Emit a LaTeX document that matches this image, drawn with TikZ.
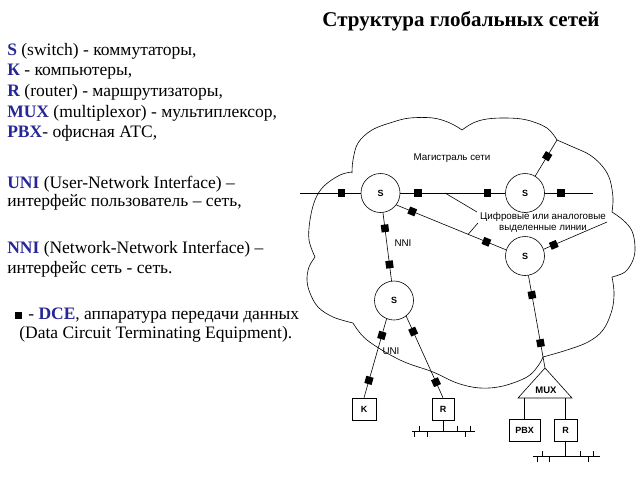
\documentclass[tikz,border=0pt]{standalone}
\usepackage{fontspec}
\setmainfont{Liberation Serif}
\newfontfamily\diag{Liberation Sans}
\usetikzlibrary{positioning}
\definecolor{keyblue}{RGB}{38,38,150}
\newcommand{\kb}[1]{\textcolor{keyblue}{\textbf{#1}}}
\begin{document}
\begin{tikzpicture}[x=1pt,y=-1pt,
  line width=0.6pt,
  sw/.style={draw,circle,minimum size=39pt,inner sep=0pt,font=\diag\bfseries\fontsize{9}{10}\selectfont},
  dev/.style={draw,rectangle,minimum height=22pt,inner sep=0pt,font=\diag\bfseries\fontsize{9}{10}\selectfont},
  dce/.style={fill=black,rectangle,minimum size=7.5pt,inner sep=0pt,sloped},
  lbl/.style={font=\diag\fontsize{9.8}{10.5}\selectfont,inner sep=0pt},
  txt/.style={anchor=base west,inner sep=0pt,font=\fontsize{17.5}{20}\selectfont},
  tick/.style={line width=0.6pt}]
\useasboundingbox (0,0) rectangle (640,480);

% title
\node[anchor=base,inner sep=0pt,font=\bfseries\fontsize{21}{25}\selectfont] (title) at (461,26.5) {Структура глобальных сетей};

% legend text
\node[txt] (t1) at (7,55.7) {\kb{S} (switch) - коммутаторы,};
\node[txt] (t2) at (7,75.3) {\kb{К} - компьютеры,};
\node[txt] (t3) at (7,96.7) {\kb{R} (router) - маршрутизаторы,};
\node[txt] (t4) at (7,117.3) {\kb{MUX} (multiplexor) - мультиплексор,};
\node[txt] (t5) at (7,137.3) {\kb{PBX}- офисная АТС,};
\node[txt] (t6) at (7,188.3) {\kb{UNI} (User-Network Interface) –};
\node[txt] (t7) at (7,206.7) {интерфейс пользователь – сеть,};
\node[txt] (t8) at (7,253.3) {\kb{NNI} (Network-Network Interface) –};
\node[txt] (t9) at (7,273.3) {интерфейс сеть - сеть.};
\node[fill=black,minimum size=7pt,inner sep=0pt] (legsq) at (18,315.5) {};
\node[txt] (t10) at (28,319.3) {- \kb{DCE}, аппаратура передачи данных};
\node[txt] (t11) at (19,338.3) {(Data Circuit Terminating Equipment).};

% cloud
\draw plot[smooth,tension=0.6] coordinates {(352,173) (353,160) (358,143) (372,130) (393,122) (410,118) (433,118) (450,123) (462,130)}
      plot[smooth,tension=0.6] coordinates {(462,130) (473,123) (487,119) (507,118) (527,120) (547,128) (557,140)}
      plot[smooth,tension=0.6] coordinates {(557,140) (573,147) (590,155) (603,167) (610,180) (613,198) (612,212)}
      plot[smooth,tension=0.6] coordinates {(612,212) (623,220) (632,231) (635,247) (633,260) (625,272) (612,277)}
      plot[smooth,tension=0.6] coordinates {(612,277) (614,292) (612,310) (603,330) (588,342) (567,350) (543,357)}
      plot[smooth,tension=0.6] coordinates {(543,357) (538,366) (527,377) (503,386) (480,388) (457,383) (433,372) (400,360) (367,340) (353,323)}
      plot[smooth,tension=0.6] coordinates {(353,323) (333,317) (318,307) (310,293) (307,280) (309,267) (315,257)}
      plot[smooth,tension=0.6] coordinates {(315,257) (309,240) (310,220) (315,200) (324,186) (340,175) (352,172)};

% switches
\node[sw] (S1) at (380.5,193) {S};
\node[sw] (S2) at (525,193) {S};
\node[sw] (S3) at (525,256) {S};
\node[sw] (S4) at (394,300.5) {S};

% free ends
\coordinate (Lend) at (300,193);
\coordinate (Rend) at (593,193);
\coordinate (Tend) at (557,140);
\coordinate (Eend) at (607,222);
\coordinate (hl) at (445,193);
\coordinate (dl) at (468,234.5);

% devices
\node[dev,minimum width=24pt] (K) at (364,409) {K};
\node[dev,minimum width=22pt] (R1) at (443,409) {R};
\node[dev,minimum width=31pt] (PBX) at (524.5,430) {PBX};
\node[dev,minimum width=23pt] (R2) at (565.5,430) {R};

% MUX
\coordinate (muxA) at (545,368);
\coordinate (muxL) at (518,398);
\coordinate (muxR) at (572,398);
\draw (muxL) -- (muxA) -- (muxR) -- cycle;
\node[font=\diag\bfseries\fontsize{9.5}{10}\selectfont,inner sep=0pt] (mux) at (546,390.5) {MUX};

% connectors with DCE
\draw (Lend) -- (S1) node[dce,pos=0.68] (d1) {};
\draw (S1) -- (S2) node[dce,pos=0.17] (d2) {} node[dce,pos=0.83] (d3) {};
\draw (S2) -- (Rend) node[dce,pos=0.34] (d4) {};
\draw (S2) -- (Tend) node[dce,pos=0.55] (d5) {};
\draw (S1.-37) -- (S3.162) node[dce,pos=0.145] (d6) {} node[dce,pos=0.82] (d7) {};
\draw (S3.20) -- (Eend) node[dce,pos=0.16] (d8) {};
\draw (S1) -- (S4) node[dce,pos=0.23] (d9) {} node[dce,pos=0.76] (d10) {};
\draw (S3.-80) -- (muxA) node[dce,pos=0.21] (d11) {} node[dce,pos=0.73] (d12) {};
\draw (S4.-112) -- (K.north) node[dce,pos=0.21] (d13) {} node[dce,pos=0.78] (d14) {};
\draw (S4.-52) -- (R1.north) node[dce,pos=0.19] (d15) {} node[dce,pos=0.81] (d16) {};

% MUX to devices
\draw (PBX.north) -- (PBX.north |- muxL);
\draw (R2.north) -- (R2.north |- muxL);

% labels
\node[lbl] (mag) at (452,158) {Магистраль сети};
\node[lbl,align=center] (dig) at (543,222.5) {Цифровые или аналоговые\\выделенные линии};
\node[lbl] (nni) at (403,243) {NNI};
\node[lbl] (uni) at (391,351) {UNI};
\draw (hl) -- (477,212);
\draw (dl) -- (478,223);

% buses
\coordinate (b1) at (443,431);
\draw (R1.south) -- (b1);
\draw (412,431) -- (475,431);
\foreach \x in {414,427,465} \draw[tick] (\x,431) -- (\x,437);
\foreach \x in {419,457,470} \draw[tick] (\x,431) -- (\x,426);
\coordinate (b2) at (565.5,456);
\draw (R2.south) -- (b2);
\draw (533,456) -- (600,456);
\foreach \x in {537,549,588} \draw[tick] (\x,456) -- (\x,462);
\foreach \x in {542,580,593} \draw[tick] (\x,456) -- (\x,451);
\end{tikzpicture}
\end{document}
